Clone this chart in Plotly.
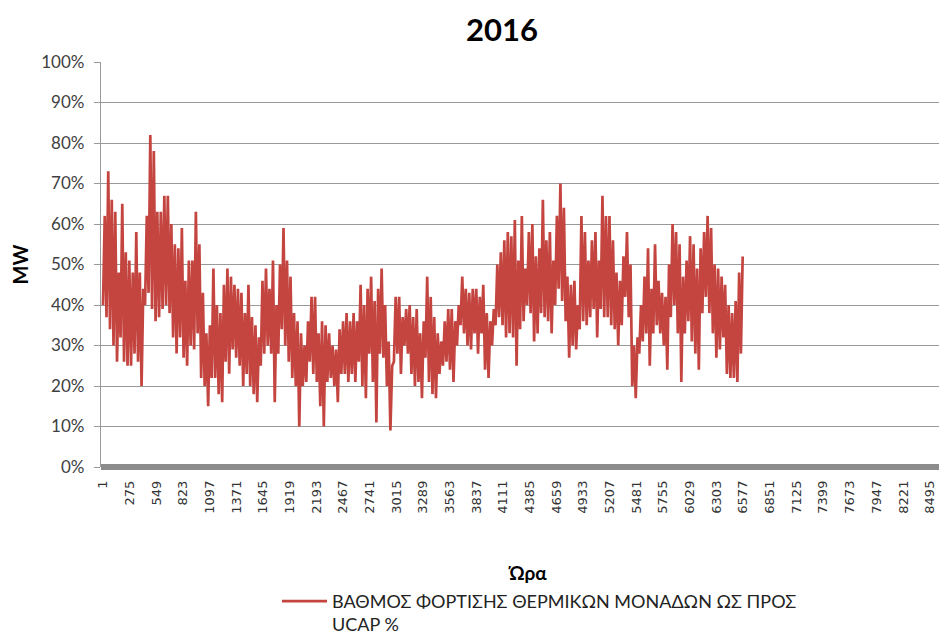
import plotly.graph_objects as go

# Approximate daily-band envelope of hourly loading (%),
# sampled every 36 hours: local high and local low.
peaks = [
    # Jan - Feb
    62, 73, 66, 63, 48, 65, 53, 51, 48, 58, 48, 44, 62, 82, 78, 63, 63, 67, 67, 60,
    55, 54, 59, 46, 51, 51, 63, 55, 43, 33, 35, 49, 40, 38, 45,
    # Feb - Apr
    49, 47, 45, 44, 43, 38, 45, 37, 35, 32, 46, 49, 44, 51, 40, 50, 59, 51, 47, 38,
    36, 33, 30, 36, 42, 42, 33, 36, 35, 33, 30, 29, 34, 36, 38, 36, 38,
    # Apr - Jun
    36, 45, 40, 44, 47, 41, 44, 49, 40, 31, 25, 42, 42, 37, 39, 40, 37, 39, 33, 36,
    47, 42, 37, 33, 31, 36, 39, 39, 36, 40, 47, 44, 43, 44, 44, 42, 45,
    # Jun - Aug
    38, 36, 39, 50, 53, 56, 58, 57, 61, 51, 62, 49, 58, 60, 52, 54, 66, 56, 58, 51,
    62, 70, 64, 47, 45, 46, 40, 62, 58, 51, 56, 58, 51, 67, 62, 62,
    # Aug - Sep
    56, 48, 46, 52, 58, 50, 30, 32, 40, 47, 54, 44, 55, 46, 43, 42, 50, 60, 58, 55,
    47, 51, 57, 55, 49, 54, 58, 62, 59, 50, 49, 47, 45, 40, 38, 41, 48, 52,
]
troughs = [
    40, 37, 34, 30, 26, 32, 26, 25, 25, 28, 26, 20, 40, 43, 39, 36, 37, 39, 40, 38,
    32, 28, 32, 27, 25, 30, 29, 33, 22, 20, 15, 22, 22, 18, 16,
    26, 23, 29, 27, 25, 20, 23, 20, 18, 16, 25, 28, 30, 28, 16, 28, 34, 30, 26, 22,
    20, 10, 20, 21, 26, 23, 21, 15, 10, 21, 22, 20, 16, 23, 23, 21, 23,
    21, 26, 20, 17, 28, 21, 11, 28, 27, 20, 9, 26, 28, 23, 30, 28, 23, 20, 21, 17,
    27, 21, 18, 17, 23, 25, 26, 24, 21, 30, 35, 33, 30, 29, 33, 28, 33,
    24, 22, 30, 35, 37, 35, 32, 33, 32, 25, 34, 36, 40, 38, 31, 33, 38, 37, 36, 33,
    40, 44, 41, 36, 27, 30, 29, 34, 36, 35, 37, 39, 32, 39, 37, 37,
    35, 34, 30, 35, 42, 37, 20, 17, 28, 31, 33, 25, 33, 35, 33, 30, 24, 37, 40, 33,
    21, 33, 36, 31, 28, 24, 38, 42, 38, 33, 27, 29, 32, 23, 22, 22, 21, 28,
]

step_hours = 36
tick_labels = [str(v) for v in range(1, 8785, 274)]
y_ticks = list(range(0, 101, 10))
y_tick_labels = [f"{v}%" for v in y_ticks]

# interleave low/high samples on the hour axis
hours, values = [], []
for i, (lo, hi) in enumerate(zip(troughs, peaks)):
    hours += [1 + i * step_hours, 1 + i * step_hours + step_hours // 2]
    values += [lo, hi]

series_name = "ΒΑΘΜΟΣ ΦΟΡΤΙΣΗΣ ΘΕΡΜΙΚΩΝ ΜΟΝΑΔΩΝ ΩΣ ΠΡΟΣ<br>UCAP %"

fig = go.Figure()
fig.add_trace(go.Scatter(
    x=hours, y=values, mode="lines", name=series_name,
    line=dict(color="#C4443F", width=2.7),
))

font_main = "Lato, 'Open Sans', sans-serif"

fig.update_layout(
    width=947, height=641,
    paper_bgcolor="white", plot_bgcolor="white",
    margin=dict(l=93, r=0, t=54, b=182, autoexpand=False),
    title=dict(text="<b>2016</b>", x=0.5217, xanchor="center", y=0.966, yanchor="middle",
               automargin=False,
               font=dict(family=font_main, size=31, color="#000000")),
    showlegend=True,
    legend=dict(x=0.2061, xanchor="left", y=-0.286, yanchor="top", valign="top",
                font=dict(family=font_main, size=18, color="#222222"),
                bgcolor="rgba(0,0,0,0)", itemwidth=45),
    font=dict(family=font_main, color="#404040"),
)

fig.update_xaxes(
    range=[-19.5, 8752],
    automargin=False,
    tickmode="array",
    tickvals=[int(t) for t in tick_labels],
    ticktext=tick_labels,
    tickangle=-90,
    ticklabelstandoff=10,
    tickfont=dict(family="DejaVu Sans", size=13, color="#333333"),
    showgrid=False, zeroline=False, showline=False,
    ticks="",
    title=dict(text="<b>Ώρα</b>", font=dict(family=font_main, size=19, color="#000000"), standoff=54),
)

fig.update_yaxes(
    range=[0, 100],
    automargin=False,
    tickmode="array",
    tickvals=y_ticks,
    ticktext=y_tick_labels,
    ticklabelstandoff=6,
    tickfont=dict(family=font_main, size=17, color="#404040"),
    showgrid=True, gridcolor="#999999", gridwidth=1.3,
    zeroline=True, zerolinecolor="#8c8c8c", zerolinewidth=6,
    showline=True, linecolor="#999999", linewidth=1.3,
    ticks="outside", ticklen=6, tickcolor="#999999",
    title=dict(text="<b>MW</b>", font=dict(family=font_main, size=20, color="#000000"), standoff=9),
)

fig.write_html("out.html")
